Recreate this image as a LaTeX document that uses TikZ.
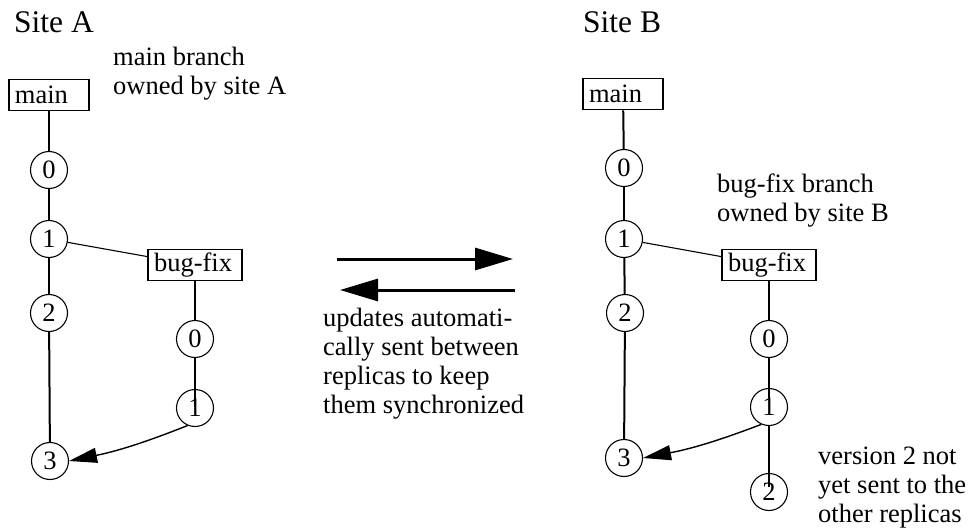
\documentclass[tikz,border=0pt]{standalone}
\usepackage{fontspec}
\setmainfont{Liberation Serif}
\usetikzlibrary{arrows.meta}
\begin{document}
\begin{tikzpicture}[x=1pt,y=-1pt,
  body/.style={font=\fontsize{26.5}{29}\selectfont},
  title/.style={font=\fontsize{31.5}{36}\selectfont, inner sep=0pt, anchor=base west},
  % multi-line notes: the base anchor sits on the last line
  note/.style={body, inner sep=0pt, align=left, anchor=base west},
  branch/.style={body, draw, line width=1.7pt, minimum height=31pt,
    inner xsep=6pt, inner ysep=0pt, align=left},
  ver/.style={body, circle, draw, line width=1.1pt, minimum size=37pt, inner sep=0pt},
  trunk/.style={line width=2pt},
  fork/.style={line width=1.1pt},
  merge/.style={line width=1.4pt, -{Triangle[length=28pt,width=15pt]}},
  sync/.style={line width=3pt, -{Triangle[length=38pt,width=22pt]}},
]
\useasboundingbox (0,0) rectangle (970,530);

% ---------- Site A ----------
\node[title] (siteA) at (14,32) {Site A};
\node[note] (ownA) at (113,94) {main branch\\owned by site A};

\node[branch, text width=68pt] (mainA) at (49,95) {main};
\node[ver] (a0) at (49,170) {0};
\node[ver] (a1) at (49,239) {1};
\node[ver] (a2) at (49,313) {2};
\node[ver] (a3) at (50,461) {3};

\node[branch, text width=82pt] (bugA) at (195,265) {bug-fix};
\node[ver] (ab0) at (195,339) {0};
\node[ver] (ab1) at (195,408) {1};

\draw[trunk] (mainA) -- (a0);
\draw[trunk] (a0) -- (a1);
\draw[trunk] (a1) -- (a2);
\draw[trunk] (a2) -- (a3);
\draw[fork] (a1) -- (bugA.170);
\draw[trunk] (bugA) -- (ab0);
\draw[trunk, shorten >=1pt] (ab0) -- (ab1.center);
\draw[merge] (ab1.247) to[bend left=5] (a3.east);

% ---------- replication between the sites ----------
\coordinate (toBfrom) at (337,259);
\coordinate (toBto) at (513,259);
\coordinate (toAfrom) at (515,290);
\coordinate (toAto) at (340,290);
\draw[sync] (toBfrom) -- (toBto);
\draw[sync] (toAfrom) -- (toAto);
\node[note] (syncnote) at (323,413)
  {updates automati-\\cally sent between\\replicas to keep\\them synchronized};

% ---------- Site B ----------
\node[title] (siteB) at (583,32) {Site B};
\node[note] (ownB) at (717,221) {bug-fix branch\\owned by site B};

\node[branch, text width=68pt] (mainB) at (623,94) {main};
\node[ver] (b0) at (624,168) {0};
\node[ver] (b1) at (624,239) {1};
\node[ver] (b2) at (625,313) {2};
\node[ver] (b3) at (624,458) {3};

\node[branch, text width=82pt] (bugB) at (769,265) {bug-fix};
\node[ver] (bb0) at (769,339) {0};
\node[ver] (bb1) at (769,407) {1};
\node[ver] (bb2) at (769,492) {2};

\draw[trunk] (mainB) -- (b0);
\draw[trunk] (b0) -- (b1);
\draw[trunk] (b1) -- (b2);
\draw[trunk] (b2) -- (b3);
\draw[fork] (b1) -- (bugB.170);
\draw[trunk] (bugB) -- (bb0);
\draw[trunk, shorten >=9pt] (bb0) -- (bb1.center);
\draw[trunk, shorten >=5pt] (bb1) -- (bb2.center);
\draw[merge] (bb1.246) to[bend left=5] (b3.east);

\node[note] (pending) at (818,522) {version 2 not\\yet sent to the\\other replicas};
\end{tikzpicture}
\end{document}
